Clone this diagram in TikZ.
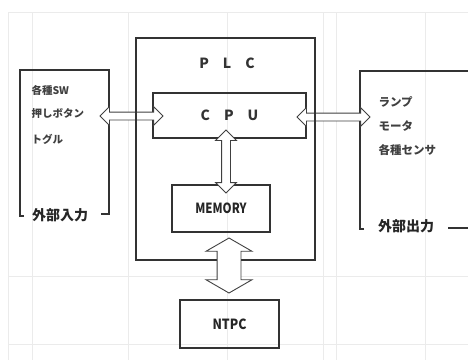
\documentclass[tikz,border=0pt]{standalone}
\usepackage{fontspec}
\usepackage{graphicx}
\newfontfamily\jp{Noto Sans CJK JP}
\usetikzlibrary{shapes.arrows}

\tikzset{
  frame/.style={draw=black!80, line width=1.6pt},
  box/.style={frame, rectangle, inner sep=0pt},
  hollow/.style={double arrow, draw=black!75, fill=white, line width=0.9pt,
    inner xsep=0pt, double arrow tip angle=90},
  gridline/.style={black!8, line width=0.8pt},
  small/.style={font=\jp\bfseries\fontsize{10.5}{10.5}\selectfont, text=black!75, anchor=west},
  caption/.style={font=\jp\bfseries\fontsize{14}{14}\selectfont, text=black!85},
  title/.style={font=\jp\bfseries\fontsize{14}{14}\selectfont, text=black!80},
  tag/.style={font=\jp\bfseries\fontsize{14}{14}\selectfont, text=black!85},
}

\begin{document}
\begin{tikzpicture}[x=1pt, y=-1pt]
  \useasboundingbox (0,0) rectangle (468,360);

  % faint sheet grid
  \foreach \gx in {8,32,128,227,323,336,425}
    \draw[gridline] (\gx,12) -- (\gx,360);
  \foreach \gy in {12,276,344}
    \draw[gridline] (8,\gy) -- (468,\gy);

  % input side
  \draw[frame] (24,216) -- (20,216) -- (20,70) -- (109,70) -- (109,214) -- (101,214);
  \node[caption] (inlab) at (60,215) {外部入力};
  \node[small] (sw) at (28,90) {各種SW};
  \node[small] (push) at (28,114) {押しボタン};
  \node[small] (tgl) at (28,139) {トグル};

  % output side
  \draw[frame] (364,229) -- (360,229) -- (360,71) -- (470,71);
  \draw[frame] (448,228) -- (470,228);
  \node[caption] (outlab) at (406,226) {外部出力};
  \node[small, font=\jp\bfseries\fontsize{11.5}{11.5}\selectfont] (lamp) at (375,102) {ランプ};
  \node[small, font=\jp\bfseries\fontsize{11.5}{11.5}\selectfont] (motor) at (375,126) {モータ};
  \node[small, font=\jp\bfseries\fontsize{11.5}{11.5}\selectfont] (sensor) at (375,150) {各種センサ};

  % controller blocks
  \node[box, minimum width=153pt, minimum height=45pt, title] (cpu) at (229.5,115.5)
    {C\hspace{14pt}P\hspace{14pt}U};
  \node[box, minimum width=98pt, minimum height=47pt, tag] (mem) at (221,208.5)
    {\scalebox{0.82}[1]{MEMORY}};
  \node[box, minimum width=99pt, minimum height=48pt, tag] (ntpc) at (229.5,324)
    {\scalebox{0.88}[1]{NTPC}};

  % io arrows
  \node[hollow, minimum height=63pt, minimum width=18pt, inner ysep=3.5pt,
    double arrow head extend=5.5pt] (inarr) at (131.5,116) {};
  \node[hollow, minimum height=73pt, minimum width=18pt, inner ysep=3.5pt,
    double arrow head extend=5.5pt] (outarr) at (333.5,117) {};
  \node[hollow, rotate=90, minimum height=63pt, minimum width=20pt, inner ysep=4pt,
    double arrow head extend=6pt] (busarr) at (226,161.5) {};

  % plc frame
  \node[box, minimum width=179pt, minimum height=222pt] (plc) at (225.5,149) {};
  \node[title] (plct) at (227,63) {P\hspace{14pt}L\hspace{14pt}C};

  \node[hollow, rotate=90, minimum height=55pt, minimum width=45pt, inner ysep=11.5pt,
    double arrow head extend=11pt, double arrow tip angle=120] (pcarr) at (229,265.5) {};
\end{tikzpicture}
\end{document}
